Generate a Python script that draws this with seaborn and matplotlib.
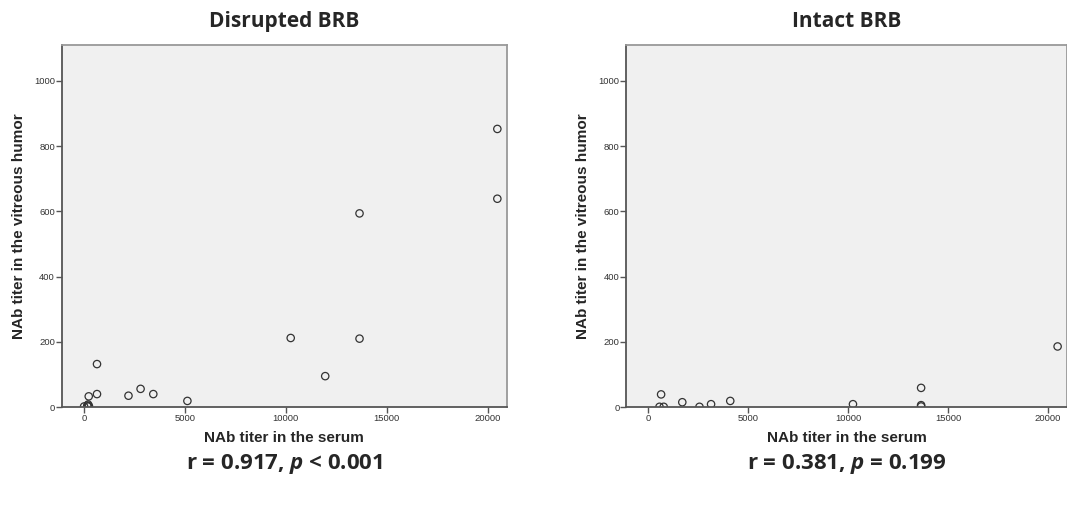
import matplotlib
matplotlib.use("Agg")
import matplotlib.pyplot as plt
import seaborn as sns
import pandas as pd

# Disrupted BRB: serum vs vitreous NAb titer
disrupted_serum = [20480, 20480, 13650, 10240, 13650, 11950, 640, 640, 230,
                   2200, 2800, 3430, 5120, 0, 160, 200, 240, 180]
disrupted_vitreous = [853, 639, 594, 212, 210, 95, 132, 40, 33,
                      35, 56, 40, 19, 2, 5, 8, 3, 2]

# Intact BRB
intact_serum = [20480, 13650, 13650, 13650, 10240, 640, 560, 770,
                1700, 2560, 3140, 4100]
intact_vitreous = [186, 59, 6, 2, 9, 39, 1, 1,
                   15, 1, 9, 19]

titles = ["Disrupted BRB", "Intact BRB"]
stats = [("0.917", "<", "0.001"), ("0.381", "=", "0.199")]

sns.set_style("white")
plt.rcParams["font.family"] = ["Liberation Sans", "DejaVu Sans"]
plt.rcParams["mathtext.fontset"] = "custom"
plt.rcParams["mathtext.it"] = "Open Sans:italic:bold"

fig = plt.figure(figsize=(10.67, 5.07), dpi=100)
positions = [[0.058, 0.197, 0.417, 0.714], [0.587, 0.197, 0.413, 0.714]]
panels = [
    pd.DataFrame({"serum": disrupted_serum, "vitreous": disrupted_vitreous}),
    pd.DataFrame({"serum": intact_serum, "vitreous": intact_vitreous}),
]

for pos, df, title, (r, op, p) in zip(positions, panels, titles, stats):
    ax = fig.add_axes(pos)
    ax.set_facecolor("#f0f0f0")
    sns.scatterplot(data=df, x="serum", y="vitreous", ax=ax, marker="o",
                    s=28, facecolors="none", edgecolor="#333333", linewidth=0.9)
    ax.set_xlim(-1100, 20950)
    ax.set_ylim(0, 1110)
    ax.set_xticks([0, 5000, 10000, 15000, 20000])
    ax.set_yticks([0, 200, 400, 600, 800, 1000])
    ax.tick_params(axis="both", labelsize=6.8, labelcolor="#333333",
                   direction="out", length=4, width=1, color="#555555",
                   bottom=True, left=True, pad=1)
    for side in ["left", "bottom"]:
        ax.spines[side].set_color("#555555")
        ax.spines[side].set_linewidth(1.3)
    for side in ["top", "right"]:
        ax.spines[side].set_color("#999999")
        ax.spines[side].set_linewidth(1.3)
    ax.set_xlabel("NAb titer in the serum", fontsize=11, fontweight="bold",
                  labelpad=6)
    ax.set_ylabel("NAb titer in the vitreous humor", fontsize=11,
                  fontweight="bold", labelpad=6)
    ax.set_title(title, fontsize=15, fontweight="bold", pad=13,
                 family=["Open Sans", "DejaVu Sans"])
    ax.text(0.5, -0.125, f"r = {r}, $p$ {op} {p}",
            transform=ax.transAxes, ha="center", va="top", fontsize=16,
            fontweight="bold", family=["Open Sans", "DejaVu Sans"])

plt.savefig("out.png", dpi=100)
